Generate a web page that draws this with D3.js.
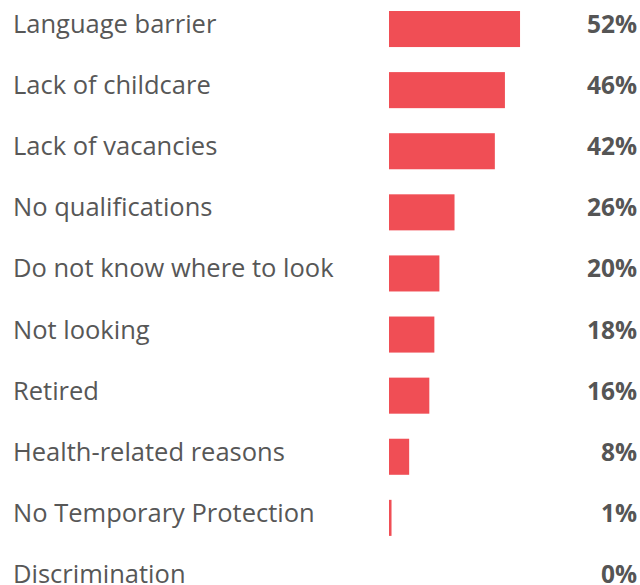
<!DOCTYPE html>
<html>
<head>
<meta charset="utf-8">
<script src="https://cdn.jsdelivr.net/npm/d3@7"></script>
<style>
  html, body { margin: 0; padding: 0; background: #fff; }
  svg { display: block; }
</style>
</head>
<body>
<div id="chart"></div>
<script>
// Reasons for not working, share of respondents (%)
const categories = [
  "Language barrier",
  "Lack of childcare",
  "Lack of vacancies",
  "No qualifications",
  "Do not know where to look",
  "Not looking",
  "Retired",
  "Health-related reasons",
  "No Temporary Protection",
  "Discrimination"
];
const values = [52, 46, 42, 26, 20, 18, 16, 8, 1, 0];

const width = 640, height = 585;
const barColor = "#F04E55";
const labelColor = "#575757";
const valueColor = "#555555";

const svg = d3.select("#chart").append("svg")
  .attr("width", width)
  .attr("height", height);

const x = d3.scaleLinear().domain([0, 100]).range([389, 641]);
const y = d3.scaleBand()
  .domain(categories)
  .range([11, 597])
  .paddingInner(0.41)
  .paddingOuter(0);

const rows = svg.append("g").selectAll("g")
  .data(categories.map((c, i) => ({ cat: c, val: values[i] })))
  .join("g");

rows.append("rect")
  .attr("x", x(0))
  .attr("y", d => y(d.cat))
  .attr("width", d => x(d.val) - x(0))
  .attr("height", y.bandwidth())
  .attr("fill", barColor);

rows.append("text")
  .attr("x", 13)
  .attr("y", d => y(d.cat) + y.bandwidth() / 2 + 4)
  .attr("fill", labelColor)
  .style("font-family", "'Open Sans', sans-serif")
  .style("font-size", "25.5px")
  .text(d => d.cat);

rows.append("text")
  .attr("x", 637)
  .attr("y", d => y(d.cat) + y.bandwidth() / 2 + 4)
  .attr("text-anchor", "end")
  .attr("fill", valueColor)
  .style("font-family", "'Open Sans', sans-serif")
  .style("font-size", "24.5px")
  .style("font-weight", "bold")
  .text(d => d.val + "%");
</script>
</body>
</html>
